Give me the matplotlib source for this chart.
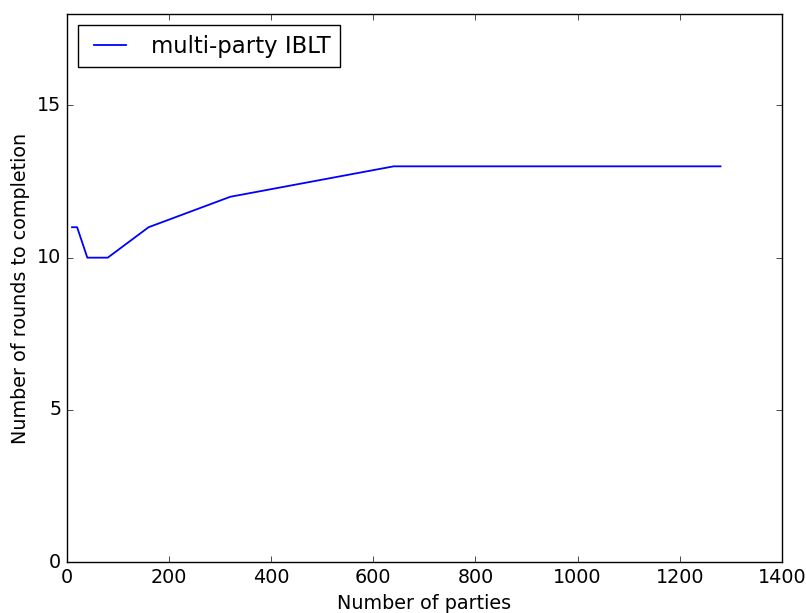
import matplotlib
matplotlib.use("Agg")
import matplotlib.pyplot as plt

plt.style.use("classic")
plt.rcParams.update({"font.size": 13.8})

parties = [10, 20, 40, 80, 160, 320, 640, 1280]
rounds = [11, 11, 10, 10, 11, 12, 13, 13]

fig = plt.figure(figsize=(8.06, 6.13), dpi=100, facecolor="white")
ax = fig.add_axes([0.083, 0.083, 0.887, 0.894])
ax.plot(parties, rounds, color="b", lw=1.3, label="multi-party IBLT")
ax.set_xlim(0, 1400)
ax.set_ylim(0, 18)
ax.set_yticks([0, 5, 10, 15])
ax.set_xlabel("Number of parties")
ax.set_ylabel("Number of rounds to completion")
ax.legend(loc="upper left", fontsize=16.4)
fig.savefig("out.png", dpi=100, facecolor="white")
